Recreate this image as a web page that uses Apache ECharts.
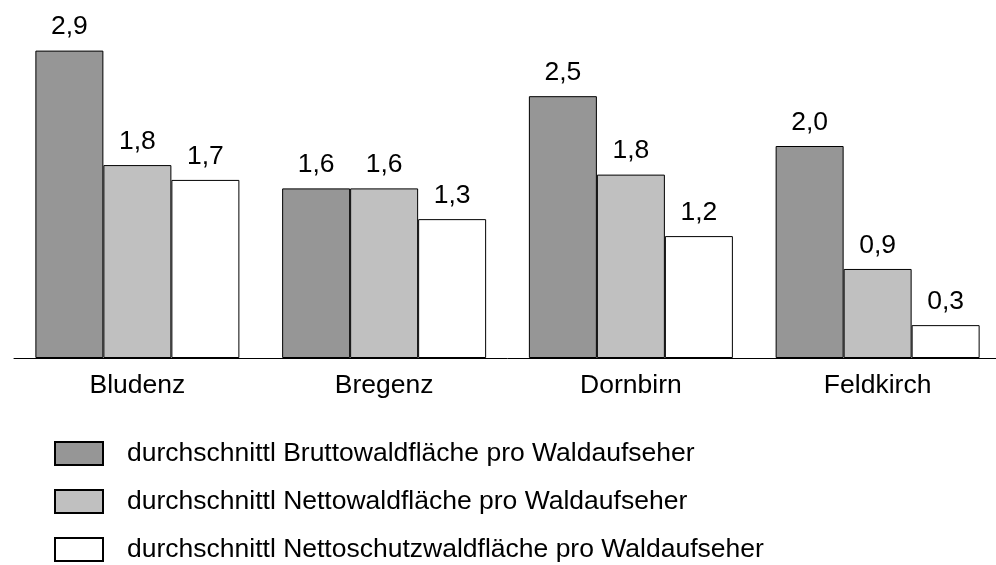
<!DOCTYPE html>
<html>
<head>
<meta charset="utf-8">
<script src="https://cdn.jsdelivr.net/npm/echarts@6/dist/echarts.min.js"></script>
<style>html,body{margin:0;padding:0;background:#fff;overflow:hidden;}#chart{width:1010px;height:565px;}</style>
</head>
<body>
<div id="chart"></div>
<script>
const categories = ['Bludenz', 'Bregenz', 'Dornbirn', 'Feldkirch'];
const seriesNames = [
  'durchschnittl Bruttowaldfläche pro Waldaufseher',
  'durchschnittl Nettowaldfläche pro Waldaufseher',
  'durchschnittl Nettoschutzwaldfläche pro Waldaufseher'
];
const bruttoValues = [2.90, 1.60, 2.47, 2.00];
const nettoValues = [1.82, 1.60, 1.73, 0.84];
const schutzValues = [1.68, 1.31, 1.15, 0.31];
const bruttoLabels = ['2,9', '1,6', '2,5', '2,0'];
const nettoLabels = ['1,8', '1,6', '1,8', '0,9'];
const schutzLabels = ['1,7', '1,3', '1,2', '0,3'];
const colors = ['#969696', '#c0c0c0', '#ffffff'];

const FONT = '"Liberation Sans", Arial, sans-serif';
const valueSets = [bruttoValues, nettoValues, schutzValues];
const labelSets = [bruttoLabels, nettoLabels, schutzLabels];

const chart = echarts.init(document.getElementById('chart'), null, {renderer: 'canvas'});
chart.setOption({
  animation: false,
  backgroundColor: '#ffffff',
  textStyle: {fontFamily: FONT},
  grid: {left: 14, width: 987, top: 40, height: 318, containLabel: false},
  xAxis: {
    type: 'category',
    data: categories,
    axisLine: {show: true, lineStyle: {color: '#000', width: 1}},
    axisTick: {show: false},
    axisLabel: {color: '#000', fontSize: 26.5, fontFamily: FONT, margin: 14}
  },
  yAxis: {
    type: 'value', min: 0, max: 3,
    show: false,
    splitLine: {show: false}
  },
  legend: {
    orient: 'vertical',
    left: 54,
    top: 440,
    padding: 0,
    itemWidth: 48,
    itemHeight: 23,
    itemGap: 21,
    icon: 'rect',
    selectedMode: false,
    data: seriesNames,
    textStyle: {color: '#000', fontSize: 26.5, fontFamily: FONT, padding: [0, 0, 0, 19], lineHeight: 26}
  },
  series: seriesNames.map((name, i) => ({
    name: name,
    type: 'bar',
    data: valueSets[i],
    barWidth: 68,
    barGap: '0%',
    itemStyle: {color: colors[i], borderColor: '#000', borderWidth: 1},
    label: {
      show: true,
      position: 'top',
      distance: 10,
      color: '#000',
      fontSize: 26.5,
      fontFamily: FONT,
      formatter: p => labelSets[i][p.dataIndex]
    }
  }))
});
</script>
</body>
</html>
